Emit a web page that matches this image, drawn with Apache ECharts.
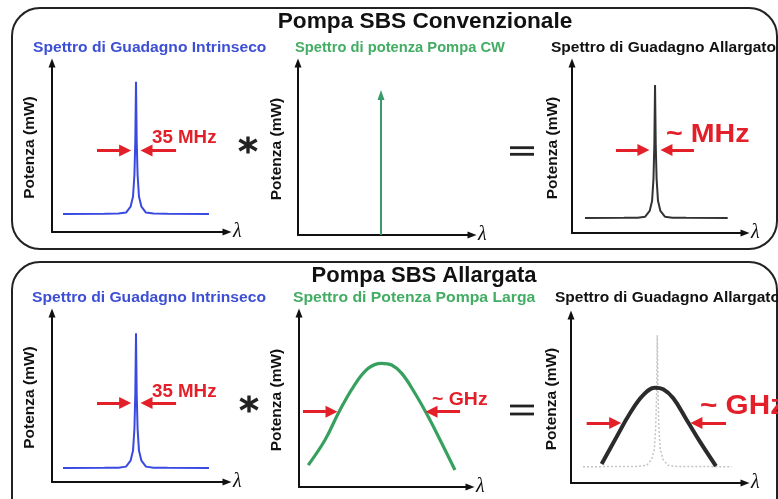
<!DOCTYPE html>
<html><head><meta charset="utf-8">
<script src="https://cdn.jsdelivr.net/npm/echarts/dist/echarts.min.js"></script>
<style>html,body{margin:0;padding:0;background:#fff}#c{width:778px;height:499px}</style>
</head><body><div id="c"></div>
<script>
// ---- data (axes run 0..100 in both directions for every panel) ----
const gainTopX   = [6.3, 30, 38, 42.3, 44.9, 46.3, 47.1, 47.6, 48, 48.4, 48.9, 49.7, 51.1, 53.7, 58, 66, 89.7];
const gainTopY   = [10.7, 10.8, 10.9, 11.5, 15, 21, 34, 54, 88.9, 54, 34, 21, 15, 11.5, 10.9, 10.8, 10.7];
const cwX        = [47.7, 47.7];
const cwY        = [0, 81.4];
const brillTopX  = [7.5, 30, 38, 42.3, 44.9, 46.3, 47.1, 47.6, 48, 48.4, 48.9, 49.7, 51.1, 53.7, 58, 66, 90];
const brillTopY  = [8.8, 8.9, 9.0, 9.6, 13, 19, 32, 52, 87, 52, 32, 19, 13, 9.6, 9.0, 8.9, 8.8];
const gainBotX   = [6.3, 30, 38, 42.3, 44.9, 46.3, 47.1, 47.6, 48, 48.4, 48.9, 49.7, 51.1, 53.7, 58, 66, 89.7];
const gainBotY   = [8.3, 8.4, 8.5, 9.1, 12.6, 18.6, 31.6, 52, 88, 52, 31.6, 18.6, 12.6, 9.1, 8.5, 8.4, 8.3];
const pumpBroadX = [5.4, 15.2, 23.0, 31.8, 40.5, 48.4, 54.2, 60.1, 67.8, 75.6, 83.5, 91.2];
const pumpBroadY = [12.6, 27.0, 42.4, 57.6, 68.2, 71.1, 70.1, 65.3, 53.9, 40.4, 25.1, 9.8];
const gainBroadX = [17.6, 26.3, 33.9, 41.6, 48.3, 53.0, 58.8, 66.5, 74.1, 83.3];
const gainBroadY = [11.3, 27.6, 41.5, 52.4, 56.7, 55.8, 50.4, 37.5, 24.6, 10.1];
const ghostX     = [6.9, 30, 39, 43.5, 46.3, 47.9, 48.7, 49.2, 49.6, 50.0, 50.5, 51.3, 52.9, 55.7, 60, 68, 92.4];
const ghostY     = [9.7, 9.8, 9.9, 10.5, 14, 20, 33, 53, 88, 53, 33, 20, 14, 10.5, 9.9, 9.8, 9.7];

const titles    = ['Pompa SBS Convenzionale', 'Pompa SBS Allargata'];
const subtitles = ['Spettro di Guadagno Intrinseco', 'Spettro di potenza Pompa CW', 'Spettro di Guadagno Allargato',
                   'Spettro di Guadagno Intrinseco', 'Spettro di Potenza Pompa Larga', 'Spettro di Guadagno Allargato'];
const yName = 'Potenza (mW)';
const xName = 'λ';

// ---- layout ----
const panels = [
  {left: 52,  top: 63,  width: 175, height: 169, gap: 14},
  {left: 298, top: 63,  width: 174, height: 172, gap: 13},
  {left: 572, top: 63,  width: 173, height: 170, gap: 11},
  {left: 52,  top: 313, width: 175, height: 169, gap: 14},
  {left: 299, top: 313, width: 171, height: 174, gap: 14},
  {left: 571, top: 315, width: 174, height: 168, gap: 11}
];
const RED = '#e3202a';
const zip = (a, b) => a.map((v, i) => [v, b[i]]);

const grids = [], xAxes = [], yAxes = [];
panels.forEach((p, i) => {
  grids.push({left: p.left, top: p.top, width: p.width, height: p.height, containLabel: false});
  const axisLine = {show: true, onZero: false, symbol: ['none', 'triangle'], symbolSize: [7, 9],
                    lineStyle: {color: '#111', width: 2}};
  xAxes.push({type: 'value', gridIndex: i, min: 0, max: 100, axisLine,
    axisTick: {show: false}, axisLabel: {show: false}, splitLine: {show: false},
    name: xName, nameLocation: 'end', nameGap: 6,
    nameTextStyle: {fontFamily: 'Liberation Serif', fontStyle: 'italic', fontSize: 20, color: '#111', verticalAlign: 'middle'}});
  yAxes.push({type: 'value', gridIndex: i, min: 0, max: 100, axisLine,
    axisTick: {show: false}, axisLabel: {show: false}, splitLine: {show: false},
    name: yName, nameLocation: 'middle', nameGap: p.gap,
    nameTextStyle: {fontFamily: 'Liberation Sans', fontWeight: 'bold', fontSize: 15.5, color: '#111'}});
});

function arrowMarks(y, l0, l1, r0, r1) {
  return {
    silent: true, symbol: ['none', 'triangle'], symbolSize: 12, animation: false,
    lineStyle: {color: RED, width: 3, type: 'solid'}, label: {show: false}, emphasis: {disabled: true},
    data: [[{coord: [l0, y]}, {coord: [l1, y]}], [{coord: [r0, y]}, {coord: [r1, y]}]]
  };
}
function lineSeries(idx, x, y, color, width, extra) {
  return Object.assign({type: 'line', xAxisIndex: idx, yAxisIndex: idx, data: zip(x, y),
    showSymbol: false, symbol: 'none', silent: true, animation: false,
    lineStyle: {color, width}}, extra || {});
}

const series = [
  lineSeries(0, gainTopX, gainTopY, '#3a4ae0', 2, {markLine: arrowMarks(48.2, 25.7, 41.8, 70.9, 54)}),
  Object.assign(lineSeries(1, cwX, cwY, '#3a9a6a', 2), {
    symbol: 'triangle', showSymbol: true,
    data: [{value: [cwX[0], cwY[0]], symbol: 'none'},
           {value: [cwX[1], cwY[1]], symbol: 'triangle', symbolSize: [7, 10], itemStyle: {color: '#3a9a6a'}}]
  }),
  lineSeries(2, brillTopX, brillTopY, '#333', 2, {markLine: arrowMarks(48.8, 25.4, 41.3, 70.5, 54.6)}),
  lineSeries(3, gainBotX, gainBotY, '#3a4ae0', 2, {markLine: arrowMarks(46.7, 25.7, 41.8, 70.9, 54)}),
  lineSeries(4, pumpBroadX, pumpBroadY, '#37a05e', 3.2, {smooth: 0.4, markLine: arrowMarks(43.3, 2.3, 19, 94.2, 77.5)}),
  lineSeries(5, ghostX, ghostY, '#c4c4c4', 1.5, {lineStyle: {color: '#c4c4c4', width: 1.5, type: [2, 2]}}),
  lineSeries(5, gainBroadX, gainBroadY, '#2b2b2b', 4, {smooth: 0.4, markLine: arrowMarks(35.7, 9, 25.4, 89.1, 72.1)})
];

// ---- graphic annotations ----
const FONT = '"Liberation Sans", Arial, sans-serif';
function txt(t, x, y, size, color, align, sx) {
  return {type: 'text', x, y, silent: true, scaleX: sx || 1,
    style: {text: t, fill: color, font: 'bold ' + size + 'px ' + FONT, align: align || 'left', verticalAlign: 'middle'}};
}
function asterisk(cx, cy) {
  const arms = [[0, 8.5], [8.7, 5], [8.7, -5]];
  return {type: 'group', x: cx, y: cy, silent: true, children: arms.map(a => ({
    type: 'line', shape: {x1: -a[0], y1: -a[1], x2: a[0], y2: a[1]},
    style: {stroke: '#222', lineWidth: 3.4, lineCap: 'butt'}}))};
}
function equals(x, y1, y2) {
  return {type: 'group', silent: true, children: [
    {type: 'rect', shape: {x: x, y: y1 - 1.4, width: 24, height: 2.8}, style: {fill: '#222'}},
    {type: 'rect', shape: {x: x, y: y2 - 1.4, width: 24, height: 2.8}, style: {fill: '#222'}}
  ]};
}

const graphic = [
  {type: 'rect', silent: true, shape: {x: 12, y: 8, width: 765, height: 241, r: 28}, style: {fill: 'none', stroke: '#222', lineWidth: 2}},
  {type: 'rect', silent: true, shape: {x: 12, y: 262, width: 765, height: 280, r: 28}, style: {fill: 'none', stroke: '#222', lineWidth: 2}},
  txt(titles[0], 425, 22, 22, '#111', 'center', 1.03),
  txt(titles[1], 424, 276, 22, '#111', 'center'),
  txt(subtitles[0], 33, 48, 14.5, '#3d4fd4', 'left', 1.077),
  txt(subtitles[1], 295, 47.5, 14.5, '#42ad63', 'left', 1.014),
  txt(subtitles[2], 551, 47.5, 14.5, '#111', 'left', 1.07),
  txt(subtitles[3], 32, 298, 14.5, '#3d4fd4', 'left', 1.08),
  txt(subtitles[4], 293, 297.5, 14.5, '#42ad63', 'left', 1.086),
  txt(subtitles[5], 555, 297.5, 14.5, '#111', 'left', 1.07),
  txt('35 MHz', 152, 138, 18, RED, 'left', 1.04),
  txt('35 MHz', 152, 392, 18, RED, 'left', 1.04),
  txt('~ MHz', 666, 135, 26, RED, 'left', 1.1),
  txt('~ GHz', 432, 400, 18, RED, 'left', 1.08),
  txt('~ GHz', 700, 407, 27, RED, 'left', 1.1),
  asterisk(248, 145),
  asterisk(249, 404),
  equals(510, 147.7, 154.3),
  equals(510, 406, 414)
];

const chart = echarts.init(document.getElementById('c'), null, {renderer: 'canvas'});
chart.setOption({
  animation: false,
  backgroundColor: '#fff',
  grid: grids, xAxis: xAxes, yAxis: yAxes, series, graphic
});
</script>
</body></html>
